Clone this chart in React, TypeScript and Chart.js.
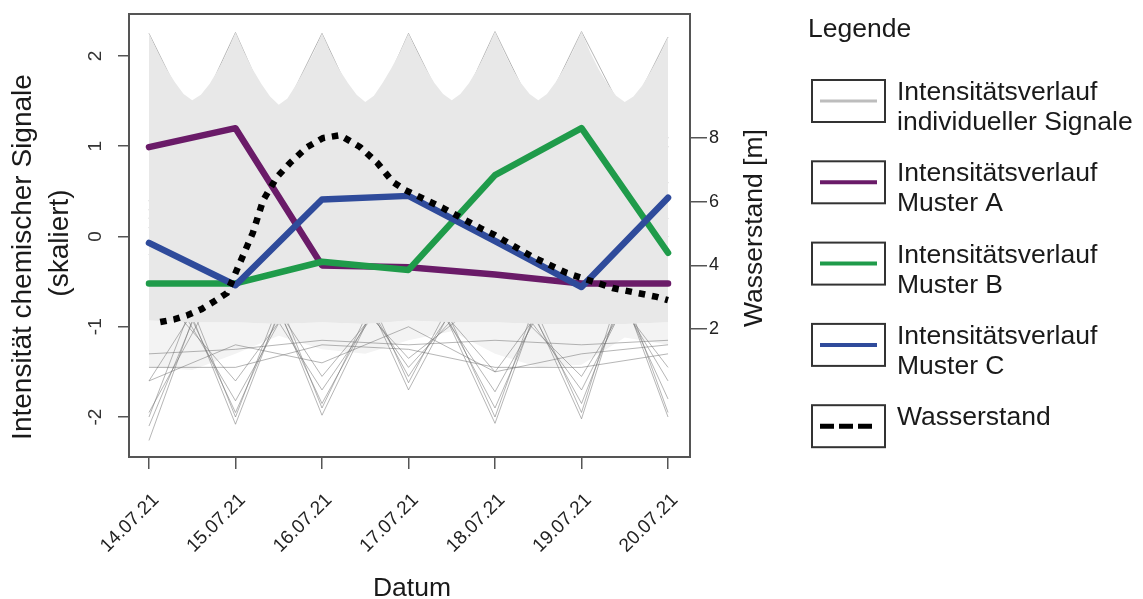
import React, { useEffect, useRef } from "react";
import { Chart, registerables } from "chart.js";

Chart.register(...registerables);

// ---------- data ----------
const datumLabels = ["14.07.21", "15.07.21", "16.07.21", "17.07.21", "18.07.21", "19.07.21", "20.07.21"];
const tage = [0, 1, 2, 3, 4, 5, 6];

const musterA = [0.99, 1.2, -0.32, -0.34, -0.42, -0.52, -0.52];
const musterB = [-0.52, -0.52, -0.28, -0.37, 0.68, 1.2, -0.18];
const musterC = [-0.07, -0.54, 0.41, 0.45, -0.05, -0.56, 0.43];

const pegelTag = [0.13, 0.3, 0.45, 0.61, 0.76, 0.9, 1.03, 1.2, 1.32, 1.48, 1.63, 1.83, 2.01, 2.21, 2.44, 2.64, 2.82, 2.96, 3.4, 3.83, 4.0, 4.44, 4.83, 5.36, 5.6, 5.87, 6.0];
const pegelMeter = [2.22, 2.31, 2.44, 2.63, 2.88, 3.13, 3.95, 5.02, 6.05, 6.78, 7.22, 7.72, 8.0, 8.09, 7.72, 7.22, 6.62, 6.37, 5.8, 5.17, 4.95, 4.26, 3.76, 3.29, 3.16, 3.01, 2.91];

const huelleX = [
  0, 0.1, 0.2, 0.3, 0.4, 0.5, 0.6, 0.7, 0.8, 0.9,
  1, 1.1, 1.2, 1.3, 1.4, 1.5, 1.6, 1.7, 1.8, 1.9,
  2, 2.1, 2.2, 2.3, 2.4, 2.5, 2.6, 2.7, 2.8, 2.9,
  3, 3.1, 3.2, 3.3, 3.4, 3.5, 3.6, 3.7, 3.8, 3.9,
  4, 4.1, 4.2, 4.3, 4.4, 4.5, 4.6, 4.7, 4.8, 4.9,
  5, 5.1, 5.2, 5.3, 5.4, 5.5, 5.6, 5.7, 5.8, 5.9,
  6,
];
const huelleOben = [
  2.25, 2.04, 1.86, 1.71, 1.58, 1.51, 1.57, 1.69, 1.85, 2.03,
  2.26, 2.04, 1.85, 1.69, 1.55, 1.46, 1.53, 1.68, 1.85, 2.03,
  2.25, 2.03, 1.85, 1.7, 1.57, 1.49, 1.56, 1.7, 1.86, 2.04,
  2.25, 2.04, 1.86, 1.7, 1.58, 1.51, 1.58, 1.7, 1.86, 2.05,
  2.27, 2.05, 1.86, 1.7, 1.58, 1.51, 1.58, 1.71, 1.87, 2.05,
  2.27, 2.04, 1.85, 1.69, 1.56, 1.49, 1.55, 1.67, 1.83, 2.0,
  2.21,
];
const bandX = [0, 0.5, 1, 1.5, 2, 2.5, 3, 3.5, 4, 4.5, 5, 5.5, 6];
const huelleUnten = [-0.93, -0.95, -0.95, -0.97, -0.95, -0.97, -0.93, -0.95, -0.95, -0.97, -0.97, -0.97, -0.95];
const bandUnten = [-1.45, -1.48, -1.3, -1.1, -1.25, -1.3, -1.15, -1.05, -1.3, -1.45, -1.42, -1.12, -1.2];

const signal1 = [-2.26, 0.4, -1.98, 0.0, -2.07, 0.6, -2.0];
const signal2 = [0.3, -2.08, 0.4, -1.7, 0.1, -2.02, 1.0];
const signal3 = [-2.1, 0.2, -1.85, -0.1, -1.9, 0.3, -1.8];
const signal4 = [0.1, -1.95, 0.2, -1.55, -0.1, -1.85, 0.6];
const signal5 = [-1.95, -0.2, -1.7, -0.3, -1.72, 0.0, -1.6];
const signal6 = [-0.2, -1.82, -0.1, -1.45, -0.4, -1.7, 0.2];
const signal7 = [-1.45, -1.45, -1.2, -1.25, -1.45, -1.45, -1.3];
const signal8 = [-1.3, -1.25, -1.15, -1.2, -1.15, -1.2, -1.15];
const signal9 = [-1.6, -1.2, -1.4, -1.0, -1.5, -1.3, -1.2];
const signal10 = [2.25, 0.3, 2.25, 0.2, 2.27, 0.3, 2.21];
const signal11 = [0.2, 2.26, 0.1, 2.25, 0.3, 2.27, 0.4];
const signal12 = [-2.0, 0.5, -1.9, 0.1, -2.0, 0.7, -1.95];
const signal13 = [0.4, -2.0, 0.5, -1.62, 0.2, -1.95, 1.1];
const signal14 = [-1.6, -0.1, -1.55, -0.4, -1.5, -0.2, -1.45];
const signal15 = [-0.5, -1.6, -0.3, -1.35, -0.6, -1.55, 0.0];

const linksTicks = [-2, -1, 0, 1, 2];
const rechtsTicks = [2, 4, 6, 8];

const legendeTexte = [
  ["Intensitätsverlauf", "individueller Signale"],
  ["Intensitätsverlauf", "Muster A"],
  ["Intensitätsverlauf", "Muster B"],
  ["Intensitätsverlauf", "Muster C"],
  ["Wasserstand"],
];

// ---------- styles ----------
const FONT = '"Liberation Sans", Arial, Helvetica, sans-serif';
const FARBE_A = "#6a1b68";
const FARBE_B = "#1f9b4a";
const FARBE_C = "#2f4b9b";
const FARBE_GRAU = "#bdbdbd";
const FARBE_HUELLE = "#e8e8e8";
const FARBE_BAND = "#f3f3f3";
const FARBE_LINIE = "rgba(110,110,110,0.5)";
const ACHSE = "#555";

const pts = (xs: number[], ys: number[]) => xs.map((x, i) => ({ x, y: ys[i] }));

const legendeStile = [
  { color: FARBE_GRAU, width: 3, dash: [] as number[] },
  { color: FARBE_A, width: 4, dash: [] as number[] },
  { color: FARBE_B, width: 4, dash: [] as number[] },
  { color: FARBE_C, width: 4, dash: [] as number[] },
  { color: "#000", width: 5, dash: [14, 5] },
];

const zeichnenPlugin = {
  id: "rZeichnen",
  afterDraw(chart: any) {
    const ctx: CanvasRenderingContext2D = chart.ctx;
    const a = chart.chartArea;
    ctx.save();
    // box
    ctx.strokeStyle = ACHSE;
    ctx.lineWidth = 2;
    ctx.strokeRect(a.left, a.top, a.right - a.left, a.bottom - a.top);

    // left tick labels (rotated like R)
    ctx.fillStyle = "#333";
    ctx.font = `19px ${FONT}`;
    ctx.textAlign = "center";
    ctx.textBaseline = "middle";
    const sy = chart.scales.y;
    linksTicks.forEach((v) => {
      const y = sy.getPixelForValue(v);
      ctx.save();
      ctx.translate(a.left - 33, y);
      ctx.rotate(-Math.PI / 2);
      ctx.fillText(String(v), 0, 0);
      ctx.restore();
    });

    // axis titles
    ctx.fillStyle = "#1a1a1a";
    ctx.font = `28px ${FONT}`;
    ctx.save();
    ctx.translate(23, 257);
    ctx.rotate(-Math.PI / 2);
    ctx.fillText("Intensität chemischer Signale", 0, 0);
    ctx.restore();
    ctx.save();
    ctx.translate(60, 243);
    ctx.rotate(-Math.PI / 2);
    ctx.fillText("(skaliert)", 0, 0);
    ctx.restore();

    ctx.font = `26.5px ${FONT}`;
    ctx.save();
    ctx.translate(755, 228);
    ctx.rotate(-Math.PI / 2);
    ctx.fillText("Wasserstand [m]", 0, 0);
    ctx.restore();

    ctx.textBaseline = "alphabetic";
    ctx.fillText("Datum", 412, 596);

    // legend
    ctx.textAlign = "left";
    ctx.fillText("Legende", 808, 37);
    legendeTexte.forEach((zeilen, i) => {
      const top = 80 + i * 81.3;
      ctx.strokeStyle = "#333";
      ctx.lineWidth = 2;
      ctx.setLineDash([]);
      ctx.strokeRect(812, top, 73, 42);
      const st = legendeStile[i];
      ctx.strokeStyle = st.color;
      ctx.lineWidth = st.width;
      ctx.setLineDash(st.dash);
      ctx.lineCap = "butt";
      ctx.beginPath();
      ctx.moveTo(820, top + 21);
      ctx.lineTo(877, top + 21);
      ctx.stroke();
      ctx.setLineDash([]);
      ctx.fillStyle = "#1a1a1a";
      zeilen.forEach((t, j) => ctx.fillText(t, 897, top + 20 + j * 30));
    });
    ctx.restore();
  },
};

const signalSet = (werte: number[]) => ({
  data: pts(tage, werte),
  borderColor: FARBE_LINIE,
  borderWidth: 1,
  pointRadius: 0,
  fill: false,
  order: 10,
  xAxisID: "x",
  yAxisID: "y",
});

export default function App() {
  const ref = useRef<HTMLCanvasElement>(null);

  useEffect(() => {
    const gridOpts = {
      display: true,
      drawOnChartArea: false,
      drawTicks: true,
      color: ACHSE,
      tickColor: ACHSE,
      lineWidth: 1.5,
    };
    const chart = new Chart(ref.current as HTMLCanvasElement, {
      type: "line",
      data: {
        datasets: [
          {
            data: pts(huelleX, huelleOben),
            borderWidth: 0,
            borderColor: "rgba(0,0,0,0)",
            backgroundColor: FARBE_HUELLE,
            pointRadius: 0,
            fill: "+1",
            order: 9,
            xAxisID: "x",
            yAxisID: "y",
          },
          {
            data: pts(bandX, huelleUnten),
            borderWidth: 0,
            borderColor: "rgba(0,0,0,0)",
            backgroundColor: FARBE_BAND,
            pointRadius: 0,
            fill: "+1",
            order: 12,
            xAxisID: "x",
            yAxisID: "y",
          },
          {
            data: pts(bandX, bandUnten),
            borderWidth: 0,
            borderColor: "rgba(0,0,0,0)",
            pointRadius: 0,
            fill: false,
            order: 12,
            xAxisID: "x",
            yAxisID: "y",
          },
          signalSet(signal1),
          signalSet(signal2),
          signalSet(signal3),
          signalSet(signal4),
          signalSet(signal5),
          signalSet(signal6),
          signalSet(signal7),
          signalSet(signal8),
          signalSet(signal9),
          signalSet(signal10),
          signalSet(signal11),
          signalSet(signal12),
          signalSet(signal13),
          signalSet(signal14),
          signalSet(signal15),
          {
            label: "Muster A",
            data: pts(tage, musterA),
            borderColor: FARBE_A,
            borderWidth: 6.5,
            borderJoinStyle: "round",
            borderCapStyle: "round",
            pointRadius: 0,
            fill: false,
            order: 4,
            xAxisID: "x",
            yAxisID: "y",
          },
          {
            label: "Muster B",
            data: pts(tage, musterB),
            borderColor: FARBE_B,
            borderWidth: 6.5,
            borderJoinStyle: "round",
            borderCapStyle: "round",
            pointRadius: 0,
            fill: false,
            order: 3,
            xAxisID: "x",
            yAxisID: "y",
          },
          {
            label: "Muster C",
            data: pts(tage, musterC),
            borderColor: FARBE_C,
            borderWidth: 6.5,
            borderJoinStyle: "round",
            borderCapStyle: "round",
            pointRadius: 0,
            fill: false,
            order: 2,
            xAxisID: "x",
            yAxisID: "y",
          },
          {
            label: "Wasserstand",
            data: pts(pegelTag, pegelMeter),
            borderColor: "#000",
            borderWidth: 6.5,
            borderDash: [6.5, 7],
            borderCapStyle: "butt",
            pointRadius: 0,
            fill: false,
            order: 1,
            xAxisID: "x",
            yAxisID: "y2",
          },
        ] as any,
      },
      options: {
        animation: false,
        responsive: false,
        devicePixelRatio: 1,
        events: [],
        layout: { padding: { left: 0, top: 14, right: 393, bottom: 0 } },
        plugins: { legend: { display: false }, tooltip: { enabled: false } },
        scales: {
          x: {
            type: "linear",
            position: "bottom",
            min: -0.231,
            max: 6.254,
            afterBuildTicks: (s: any) => {
              s.ticks = tage.map((v) => ({ value: v }));
            },
            afterFit: (s: any) => {
              s.height = 142;
            },
            border: { display: false },
            grid: { ...gridOpts, tickLength: 12 },
            ticks: {
              autoSkip: false,
              minRotation: 45,
              maxRotation: 45,
              padding: 20,
              labelOffset: 7,
              color: "#222",
              font: { family: FONT, size: 19 },
              callback: (v: any) => datumLabels[Math.round(Number(v))] ?? "",
            },
          },
          y: {
            type: "linear",
            position: "left",
            min: -2.443,
            max: 2.465,
            afterBuildTicks: (s: any) => {
              s.ticks = linksTicks.map((v) => ({ value: v }));
            },
            afterFit: (s: any) => {
              s.width = 129;
            },
            border: { display: false },
            grid: { ...gridOpts, tickLength: 11 },
            ticks: { display: false },
          },
          y2: {
            type: "linear",
            position: "right",
            min: -2.02,
            max: 11.9,
            afterBuildTicks: (s: any) => {
              s.ticks = rechtsTicks.map((v) => ({ value: v }));
            },
            afterFit: (s: any) => {
              s.width = 60;
            },
            border: { display: false },
            grid: { ...gridOpts, tickLength: 17 },
            ticks: {
              padding: 2,
              color: "#222",
              font: { family: FONT, size: 18 },
            },
          },
        },
      } as any,
      plugins: [zeichnenPlugin],
    });
    return () => chart.destroy();
  }, []);

  return (
    <div style={{ position: "absolute", left: 0, top: 0, width: 1143, height: 599, background: "#fff" }}>
      <canvas ref={ref} width={1143} height={599} style={{ display: "block", width: 1143, height: 599 }} />
    </div>
  );
}
